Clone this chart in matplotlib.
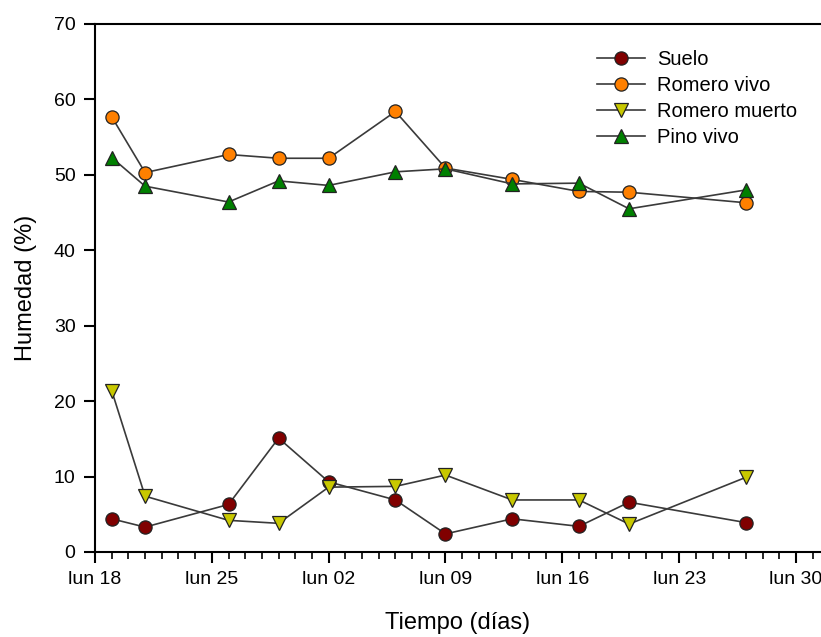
import numpy as np
import pandas as pd
import matplotlib
matplotlib.use("Agg")
import matplotlib.pyplot as plt
import matplotlib.dates as mdates

plt.rcParams['font.family'] = ['Liberation Sans', 'DejaVu Sans']

fechas = pd.to_datetime(['2012-06-19', '2012-06-21', '2012-06-26', '2012-06-29', '2012-07-02',
                         '2012-07-06', '2012-07-09', '2012-07-13', '2012-07-17', '2012-07-20',
                         '2012-07-27'])

suelo = [4.4, 3.3, 6.3, 15.1, 9.3, 6.9, 2.4, 4.4, 3.4, 6.6, 3.9]
romero_vivo = [57.7, 50.3, 52.7, 52.2, 52.2, 58.4, 50.9, 49.4, 47.8, 47.7, 46.3]
romero_muerto = [21.4, 7.4, 4.2, 3.8, 8.6, 8.7, 10.2, 6.9, 6.9, 3.7, 9.9]
pino_vivo = [52.3, 48.5, 46.4, 49.2, 48.6, 50.4, 50.8, 48.8, 48.9, 45.5, 48.0]

series = [
    ('Suelo', suelo, 'o', '#800000', 9.5),
    ('Romero vivo', romero_vivo, 'o', '#ff8000', 9.5),
    ('Romero muerto', romero_muerto, 'v', '#c8c800', 10),
    ('Pino vivo', pino_vivo, '^', '#008000', 10),
]

fig = plt.figure(figsize=(8.21, 6.37), dpi=100)
ax = fig.add_axes([95 / 821, 1 - 552 / 637, 1 - 95 / 821, (552 - 24) / 637])

for nombre, vals, mk, col, ms in series:
    ax.plot(fechas, vals, color='#3a3a3a', lw=1.2, marker=mk, markersize=ms,
            markerfacecolor=col, markeredgecolor='#222222', markeredgewidth=0.9,
            label=nombre)

inicio = pd.Timestamp('2012-06-18')
ax.set_xlim(inicio, inicio + pd.Timedelta(days=43.5))
ax.set_ylim(0, 70)
ax.set_yticks(np.arange(0, 71, 10))

ax.xaxis.set_major_locator(mdates.WeekdayLocator(byweekday=mdates.MO))
ax.xaxis.set_minor_locator(mdates.DayLocator())
ax.xaxis.set_major_formatter(mdates.DateFormatter('lun %d'))

ax.spines['right'].set_visible(False)
for s in ['left', 'bottom', 'top']:
    ax.spines[s].set_linewidth(1.5)
ax.tick_params(axis='both', which='major', direction='out', length=8, width=1.5,
               labelsize=14, pad=6)
ax.tick_params(axis='x', which='minor', direction='out', length=5, width=1.2)
ax.tick_params(top=False, right=False)

ax.set_xlabel('Tiempo (días)', fontsize=17, labelpad=17)
ax.set_ylabel('Humedad (%)', fontsize=17, labelpad=12)

ax.legend(loc='upper left', bbox_to_anchor=(0.666, 0.985), frameon=False, fontsize=14.5,
          handlelength=2.4, labelspacing=0.35, handletextpad=0.6)

fig.savefig('out.png', dpi=100)
